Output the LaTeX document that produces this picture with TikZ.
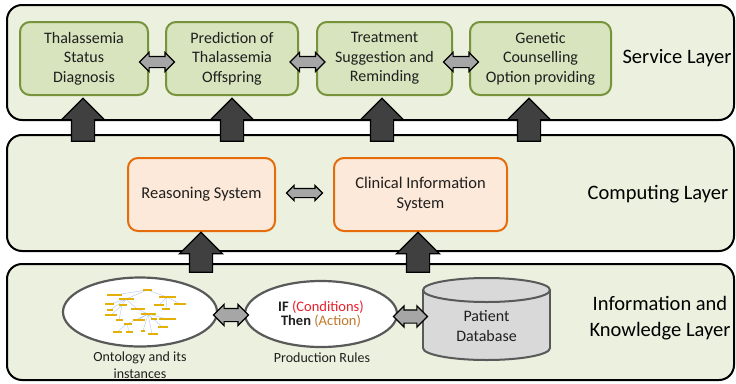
\documentclass[tikz,border=0pt]{standalone}
\usepackage{fontspec}
\setmainfont{Carlito}
\usetikzlibrary{shapes.geometric,shapes.arrows,calc}

\definecolor{layerfill}{HTML}{EBF1DE}
\definecolor{svcfill}{HTML}{D7E4BD}
\definecolor{svcline}{HTML}{77933C}
\definecolor{cmpfill}{HTML}{FDE9D9}
\definecolor{cmpline}{HTML}{E46C0A}
\definecolor{linkfill}{HTML}{A6A6A6}
\definecolor{flowfill}{HTML}{404040}
\definecolor{rimgray}{HTML}{595959}
\definecolor{dbfill}{HTML}{D9D9D9}
\definecolor{ontobox}{HTML}{E2B007}
\definecolor{ontoline}{HTML}{A9C4EB}
\definecolor{condred}{HTML}{E8202A}
\definecolor{actbrown}{HTML}{C0772A}
\definecolor{ink}{HTML}{1F1F1F}

\begin{document}
\begin{tikzpicture}[x=1pt,y=-1pt,
  layer/.style={draw=black, line width=2pt, fill=layerfill, rounded corners=15pt, minimum width=727pt, inner sep=0pt},
  service/.style={draw=svcline, line width=2pt, fill=svcfill, rounded corners=10pt,
    minimum height=73pt, align=center, font=\fontsize{16}{19.5}\selectfont, text=ink, inner sep=0pt},
  compute/.style={draw=cmpline, line width=2pt, fill=cmpfill, rounded corners=10pt,
    minimum height=73pt, align=center, font=\fontsize{16.5}{20}\selectfont, text=ink, inner sep=0pt},
  layername/.style={align=center, font=\fontsize{20.5}{26}\selectfont, text=black},
  link/.style={double arrow, draw=black, line width=1.2pt, fill=linkfill, inner xsep=0pt,
    double arrow tip angle=90},
  flow/.style={single arrow, draw=black, line width=1.2pt, fill=flowfill, inner xsep=0pt,
    inner ysep=11pt, single arrow head extend=10pt, single arrow tip angle=90, rotate=90},
  store/.style={ellipse, draw=rimgray, line width=2.2pt, fill=white, inner sep=0pt},
  caption/.style={align=center, font=\fontsize{14}{16.5}\selectfont, text=ink},
  twig/.style={draw=ontoline, line width=0.35pt},
  leaf/.style={fill=ontobox}
]
\useasboundingbox (0,0) rectangle (736,383);

% ---- layers ----
\node[layer, minimum height=115pt] (svc) at (370.5,62.5) {};
\node[layer, minimum height=116pt] (cmp) at (370.5,193) {};
\node[layer, minimum height=116pt] (info) at (370.5,322) {};

\node[layername] (svclab) at (677,58) {Service Layer};
\node[layername] (cmplab) at (658,194) {Computing Layer};
\node[layername] (infolab) at (660,318) {Information and\\Knowledge Layer};

% ---- service layer ----
\node[service, minimum width=128pt] (s1) at (84,58.5) {Thalassemia\\Status\\Diagnosis};
\node[service, minimum width=132pt] (s2) at (232,58.5) {Prediction of\\Thalassemia\\Offspring};
\node[service, minimum width=135pt] (s3) at (384.5,58.5) {Treatment\\Suggestion and\\Reminding};
\node[service, minimum width=141pt] (s4) at (540.5,58.5) {Genetic\\Counselling\\Option providing};

\foreach \a/\b in {s1/s2, s2/s3, s3/s4}
  \node[link, minimum height=35pt, inner ysep=5pt, double arrow head extend=4pt]
    (\a-\b) at ($(\a.east)!0.5!(\b.west)+(0,3.5)$) {};

% ---- computing layer ----
\node[compute, minimum width=147pt] (rs) at (201.5,194.5) {Reasoning System};
\node[compute, minimum width=173pt] (cis) at (420.5,194.5) {Clinical Information\\System};
\node[link, minimum height=36pt, inner ysep=4pt, double arrow head extend=3pt]
  (rs-cis) at ($(rs.east)!0.5!(cis.west)+(0,-1.5)$) {};

% ---- upward flows ----
\node[flow, minimum height=43pt] (f1) at (83,125.5) {};
\node[flow, minimum height=43pt] (f2) at (232,125.5) {};
\node[flow, minimum height=43pt] (f3) at (382,125.5) {};
\node[flow, minimum height=43pt] (f4) at (529,125.5) {};
\node[flow, minimum height=40pt] (f5) at (201,258) {};
\node[flow, minimum height=40pt] (f6) at (418,258) {};

% ---- information and knowledge layer ----
\node[store, minimum width=154pt, minimum height=69pt] (onto) at (140,312) {};
\node[store, minimum width=152pt, minimum height=66pt, align=center,
      font=\fontsize{14.5}{14.5}\selectfont, text=ink] (pr) at (321,314)
  {\textbf{IF} \textcolor{condred}{(Conditions)}\\\textbf{Then} \textcolor{actbrown}{(Action)}};

% ontology graph inside the ellipse
\begin{scope}
  \draw[twig] (147,290) -- (115,295) (147,290) -- (126,299) (147,290) -- (167,297)
    (126,299) -- (110,304) (126,299) -- (122,305) (126,299) -- (137,309) (126,299) -- (110,310)
    (167,297) -- (159,305) (167,297) -- (180,304) (167,297) -- (166,309)
    (137,309) -- (148,314)
    (148,314) -- (138,320) (148,314) -- (153,319) (148,314) -- (167,319)
    (148,314) -- (127,324) (148,314) -- (162,327)
    (127,324) -- (117,332) (127,324) -- (129,332)
    (148,314) -- (143,331) (148,314) -- (152,334)
    (122,305) -- (111,315) (122,305) -- (119,320);
  \foreach \xa/\xb/\yy in {107/122/295, 143/152/290, 119/134/299, 159/176/297,
      105/114/304, 119/127/305, 154/164/305, 174/186/304, 107/113/310, 131/145/309,
      162/170/309, 105/117/315, 141/156/314, 116/123/320, 133/145/320, 159/176/319,
      124/132/324, 151/157/319, 113/122/332, 126/133/332, 141/145/331, 148/158/334,
      158/168/327}
    \fill[leaf] (\xa,\yy-1.1) rectangle (\xb,\yy+1.1);
\end{scope}

% patient database cylinder
\fill[dbfill, draw=rimgray, line width=2pt] (486.5,348) ellipse [x radius=63.5, y radius=12];
\fill[dbfill] (423,290) rectangle (550,348);
\draw[rimgray, line width=2pt] (423,290) -- (423,348) (550,290) -- (550,348);
\filldraw[fill=dbfill, draw=rimgray, line width=2pt] (486.5,290) ellipse [x radius=63.5, y radius=12];
\node[minimum width=127pt, minimum height=82pt, inner sep=0pt] (db) at (486.5,319) {};
\node[align=center, font=\fontsize{16}{20}\selectfont, text=ink] (dbtext) at (486.5,326) {Patient\\Database};

\node[link, minimum height=35pt, inner ysep=6pt, double arrow head extend=4pt]
  (onto-pr) at ($(onto.east)!0.5!(pr.west)+(0,2)$) {};
\node[link, minimum height=34pt, inner ysep=6pt, double arrow head extend=4pt]
  (pr-db) at ($(pr.east)!0.5!(db.west)$) {};

\node[caption] (ontocap) at (140,365) {Ontology and its\\instances};
\node[caption] (prcap) at (322,357.5) {Production Rules};
\end{tikzpicture}
\end{document}
